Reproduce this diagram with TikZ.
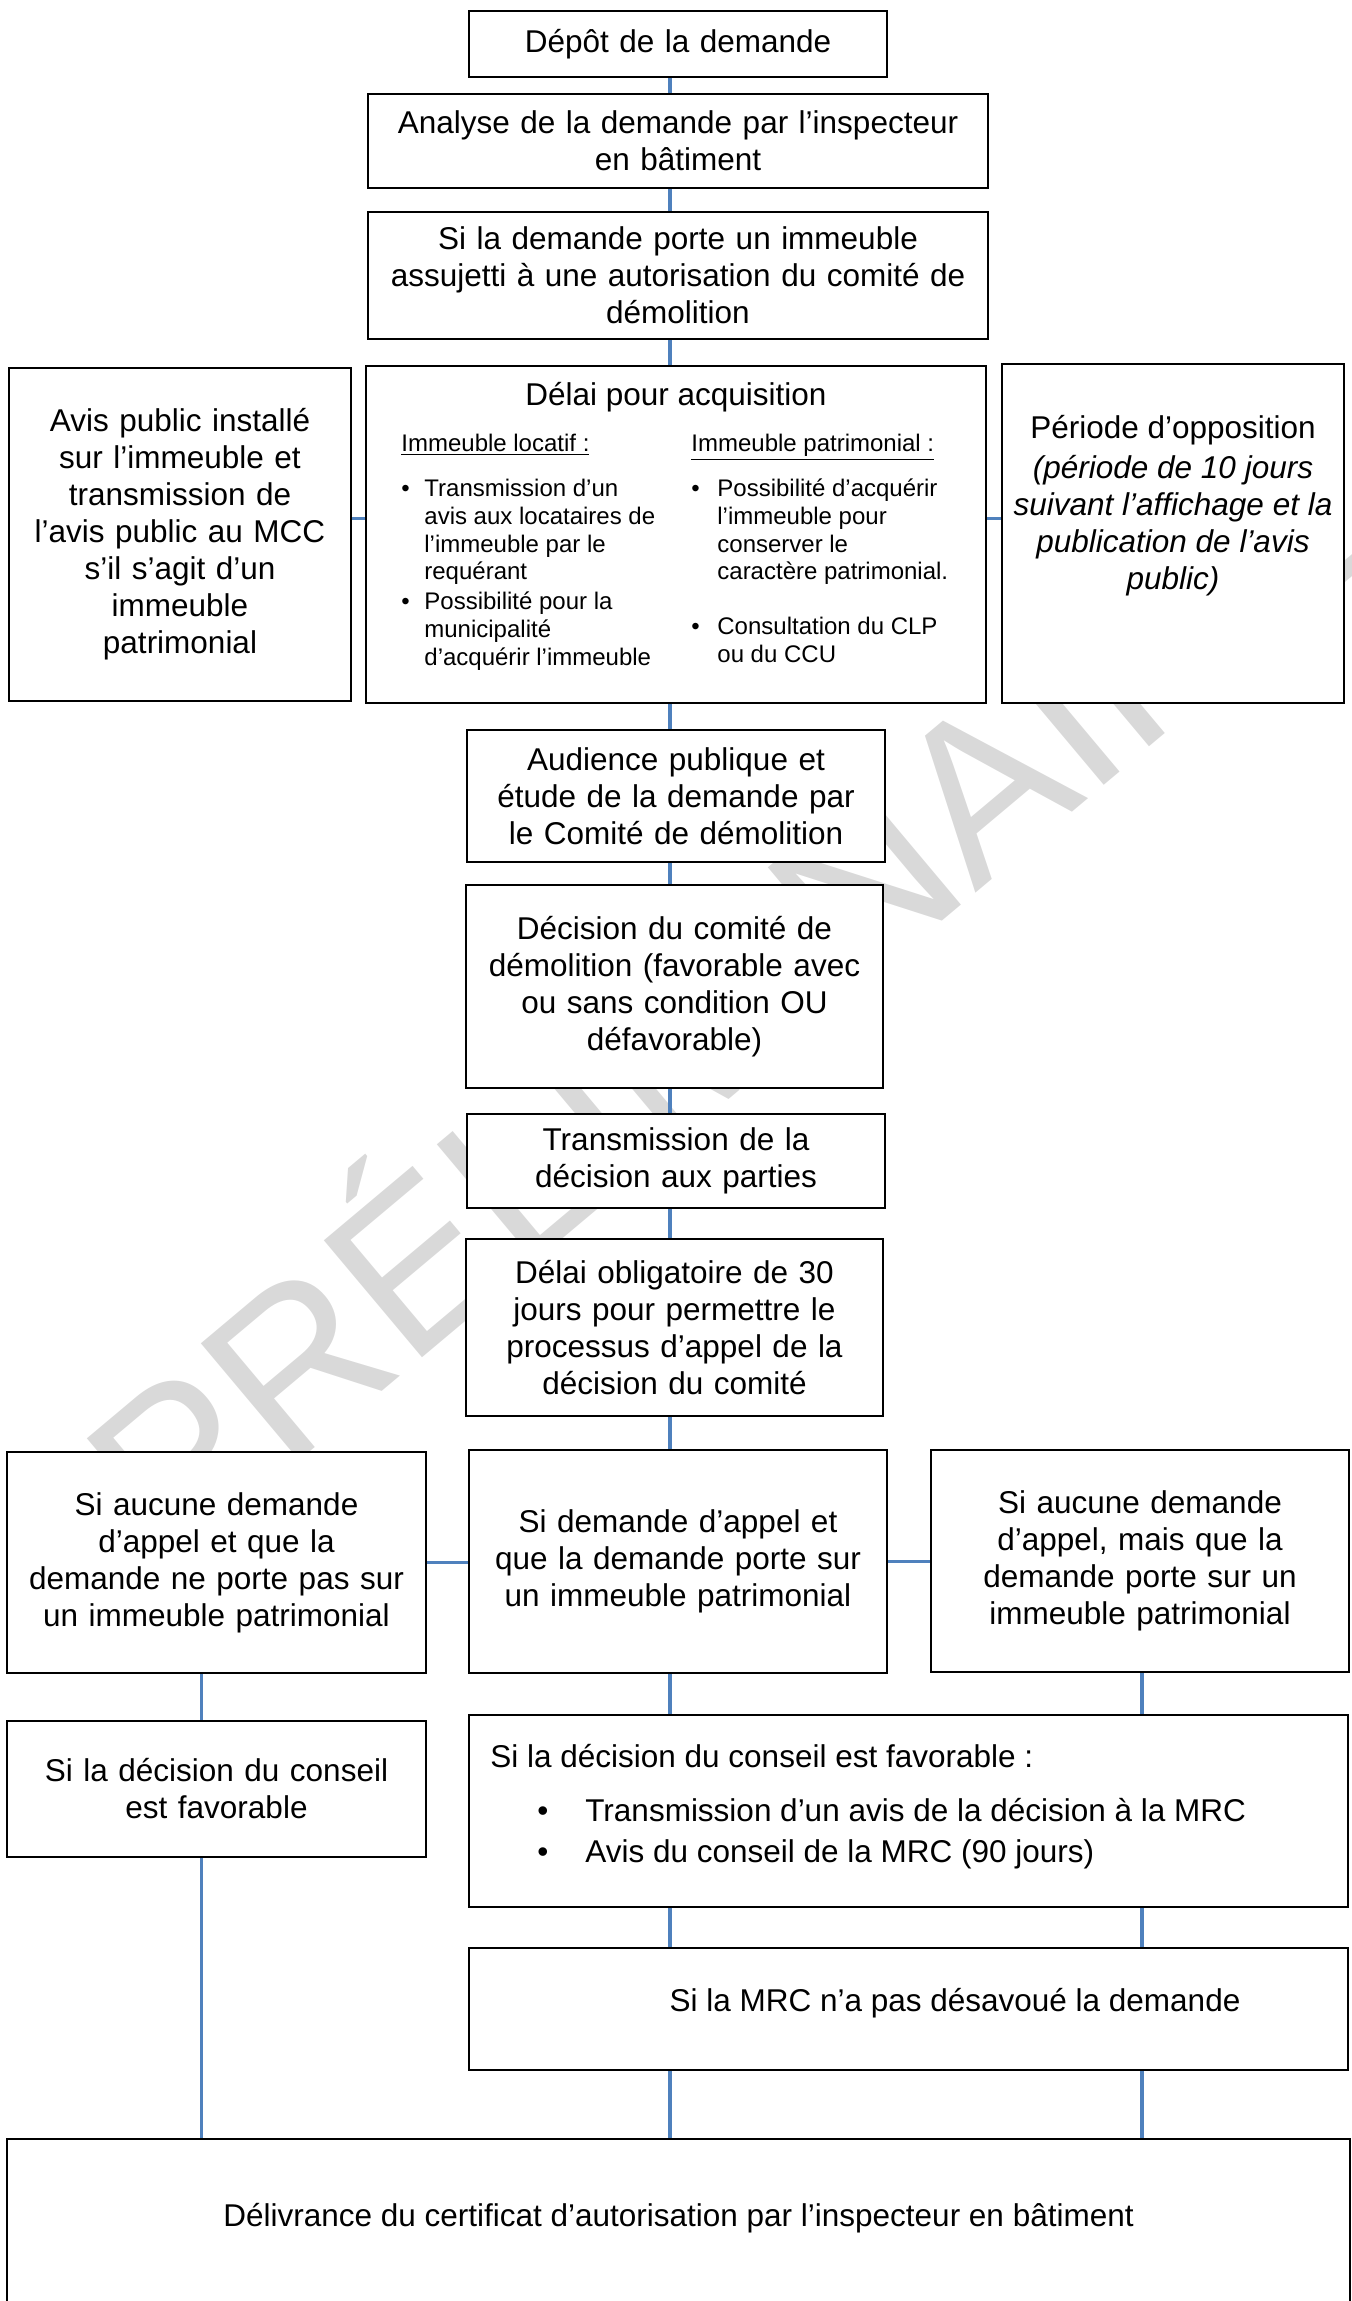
\documentclass[tikz,border=0pt]{standalone}
\usepackage{fontspec}
\setmainfont{Liberation Sans}
\definecolor{lienbleu}{HTML}{4F81BD}
\newcommand{\puce}[1]{\makebox[#1][l]{\textbullet}}
\begin{document}
\begin{tikzpicture}[x=0.5pt, y=-0.5pt,
        every node/.style={font=\fontsize{15.75}{18.5}\selectfont},
        box/.style={draw, fill=white, line width=1.2pt, inner xsep=5pt, inner ysep=0pt, align=center},
        txt/.style={inner sep=0pt, align=center},
        petit/.style={inner sep=0pt, align=left, font=\fontsize{12}{13.85}\selectfont},
        lien/.style={draw=lienbleu, line width=1.6pt}]
        \useasboundingbox (0,0) rectangle (1351,2301);
        % Watermark, behind the boxes
            \node[text=black!15, font=\fontsize{111}{111}\selectfont, rotate=40] (filigrane) at (710,990) {PRÉLIMINAIRE};
        % Central column
            \node[box, minimum height=33pt, text width=199pt] (depot) at (678,44) {Dépôt de la demande};
            \node[box, minimum height=47pt, text width=300pt] (analyse) at (678,141) {Analyse de la demande par l’inspecteur\\en bâtiment};
            \node[box, minimum height=63.5pt, text width=300pt] (sidem) at (678,275.5) {Si la demande porte un immeuble\\assujetti à une autorisation du comité de\\démolition};
        % Row: avis public / delai / opposition
            \node[box, minimum height=166.5pt, text width=161pt] (avis) at (180,534.5) {Avis public installé\\sur l’immeuble et\\transmission de\\l’avis public au MCC\\s’il s’agit d’un\\immeuble\\patrimonial};
            \node[box, minimum height=168.5pt, minimum width=310pt] (delai) at (676,534.5) {};
            \node[txt] (delaititre) at (676,397) {Délai pour acquisition};
            \node[petit, anchor=north west] (locatif) at (401,434) {\underline{Immeuble locatif :}\\[8.65pt]
                \puce{11.5pt}Transmission d’un\\\hspace*{11.5pt}avis aux locataires de\\\hspace*{11.5pt}l’immeuble par le\\\hspace*{11.5pt}requérant\\[1.15pt]
                \puce{11.5pt}Possibilité pour la\\\hspace*{11.5pt}municipalité\\\hspace*{11.5pt}d’acquérir l’immeuble};
            \node[petit, anchor=north west] (patrimonial) at (691,434) {\underline{Immeuble patrimonial :}\\[8.65pt]
                \puce{13pt}Possibilité d’acquérir\\\hspace*{13pt}l’immeuble pour\\\hspace*{13pt}conserver le\\\hspace*{13pt}caractère patrimonial.\\[13.65pt]
                \puce{13pt}Consultation du CLP\\\hspace*{13pt}ou du CCU};
            \node[box, minimum height=169.5pt, minimum width=171pt] (periode) at (1173,533.5) {};
            \node[txt] (periodetxt) at (1173,506) {Période d’opposition\\[1.5pt]\itshape (période de 10 jours\\\itshape suivant l’affichage et la\\\itshape publication de l’avis\\\itshape public)};
        % Hearing, decision, appeal delay
            \node[box, minimum height=66pt, text width=199pt] (audience) at (676,796) {Audience publique et\\étude de la demande par\\le Comité de démolition};
            \node[box, minimum height=101.5pt, text width=198.5pt] (decision) at (674.5,986.5) {Décision du comité de\\démolition (favorable avec\\ou sans condition OU\\défavorable)};
            \node[box, minimum height=47pt, text width=199pt] (transmission) at (676,1161) {Transmission de la\\décision aux parties};
            \node[box, minimum height=88.5pt, text width=198.5pt] (delaiobl) at (674.5,1327.5) {Délai obligatoire de 30\\jours pour permettre le\\processus d’appel de la\\décision du comité};
        % Three cases after the appeal delay
            \node[box, minimum height=110.5pt, text width=199.5pt] (appelnon) at (216.5,1562.5) {Si aucune demande\\d’appel et que la\\demande ne porte pas sur\\un immeuble patrimonial};
            \node[box, minimum height=111.5pt, text width=199pt] (appeloui) at (678,1561.5) {Si demande d’appel et\\que la demande porte sur\\un immeuble patrimonial};
            \node[box, minimum height=111pt, text width=199pt] (appelpatr) at (1140,1561) {Si aucune demande\\d’appel, mais que la\\demande porte sur un\\immeuble patrimonial};
        % Council and MRC
            \node[box, minimum height=68pt, text width=199.5pt] (conseil) at (216.5,1789) {Si la décision du conseil\\est favorable};
            \node[box, minimum height=96pt, minimum width=439.5pt] (mrc) at (908.5,1811) {};
            \node[txt, align=left, anchor=north west] (mrctxt) at (490,1744) {Si la décision du conseil est favorable :\\[8.5pt]
                \hspace*{23.5pt}\puce{24pt}Transmission d’un avis de la décision à la MRC\\[2pt]
                \hspace*{23.5pt}\puce{24pt}Avis du conseil de la MRC (90 jours)};
            \node[box, minimum height=61pt, minimum width=439.5pt] (mrcok) at (908.5,2009) {};
            \node[txt] (mrcoktxt) at (955,2003) {Si la MRC n’a pas désavoué la demande};
        % Final box, cut by the page edge
            \node[box, minimum height=95.5pt, minimum width=671.5pt] (final) at (678.5,2234.5) {};
            \node[txt] (finaltxt) at (678.5,2218) {Délivrance du certificat d’autorisation par l’inspecteur en bâtiment};
        % Blue links
            \draw[lien] ([xshift=-4pt]depot.south) -- ([xshift=-4pt]depot.south |- analyse.north);
            \draw[lien] ([xshift=-4pt]analyse.south) -- ([xshift=-4pt]analyse.south |- sidem.north);
            \draw[lien] ([xshift=-4pt]sidem.south) -- ([xshift=-4pt]sidem.south |- delai.north);
            \draw[lien] ([yshift=8pt]avis.east) -- ([yshift=8pt]avis.east -| delai.west);
            \draw[lien] ([yshift=8pt]delai.east) -- ([yshift=8pt]delai.east -| periode.west);
            \draw[lien] ([xshift=-3pt]delai.south) -- ([xshift=-3pt]delai.south |- audience.north);
            \draw[lien] ([xshift=-3pt]audience.south) -- ([xshift=-3pt]audience.south |- decision.north);
            \draw[lien] ([xshift=-2.25pt]decision.south) -- ([xshift=-2.25pt]decision.south |- transmission.north);
            \draw[lien] ([xshift=-3pt]transmission.south) -- ([xshift=-3pt]transmission.south |- delaiobl.north);
            \draw[lien] ([xshift=-2.25pt]delaiobl.south) -- ([xshift=-2.25pt]delaiobl.south |- appeloui.north);
            \draw[lien] (appelnon.east) -- (appelnon.east -| appeloui.west);
            \draw[lien] (appeloui.east) -- (appeloui.east -| appelpatr.west);
            \draw[lien] ([xshift=-7.5pt]appelnon.south) -- ([xshift=-7.5pt]appelnon.south |- conseil.north);
            \draw[lien] ([xshift=-7.5pt]conseil.south) -- ([xshift=-7.5pt]conseil.south |- final.north);
            \draw[lien] ([xshift=-4pt]appeloui.south) -- ([xshift=-4pt]appeloui.south |- mrc.north);
            \draw[lien] ([xshift=1pt]appelpatr.south) -- ([xshift=1pt]appelpatr.south |- mrc.north);
            \draw[lien] ([xshift=-4pt]appeloui.south |- mrc.south) -- ([xshift=-4pt]appeloui.south |- mrcok.north);
            \draw[lien] ([xshift=1pt]appelpatr.south |- mrc.south) -- ([xshift=1pt]appelpatr.south |- mrcok.north);
            \draw[lien] ([xshift=-4pt]appeloui.south |- mrcok.south) -- ([xshift=-4pt]appeloui.south |- final.north);
            \draw[lien] ([xshift=1pt]appelpatr.south |- mrcok.south) -- ([xshift=1pt]appelpatr.south |- final.north);
\end{tikzpicture}
\end{document}
